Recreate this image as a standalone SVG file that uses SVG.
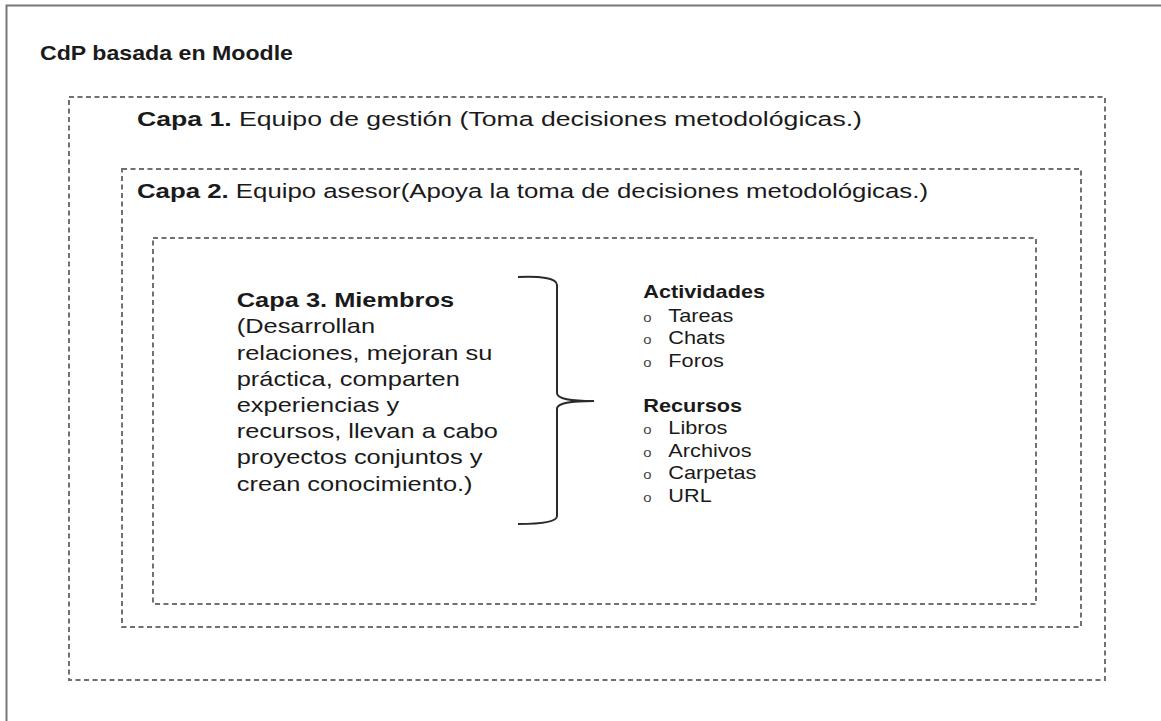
<svg xmlns="http://www.w3.org/2000/svg" width="1161" height="721" viewBox="0 0 1161 721">
<style>
.frame{fill:none;stroke:#777;stroke-width:2}
.layer{fill:none;stroke:#707070;stroke-width:2;stroke-dasharray:5 3.5}
.brace{fill:none;stroke:#2a2a2a;stroke-width:2}
text{font-family:"Liberation Sans",Arial,sans-serif;fill:#1a1a1a}
.t{font-size:20.5px}
.b{font-weight:bold}
.l{font-size:17.5px}
.bul{font-size:12px;fill:#444}
</style>
<rect width="1161" height="721" fill="#fff"/>
<path class="frame" d="M6.5,721 L6.5,5.5 L1161,5.5"/>
<g id="capa1">
<rect class="layer" x="69" y="97" width="1036" height="583"/>
</g>
<g id="capa2">
<rect class="layer" x="122" y="169" width="959" height="458"/>
</g>
<g id="capa3">
<rect class="layer" x="153" y="238" width="883" height="366"/>
</g>
<g id="connectors">
<path class="brace" d="M518,277 C540,276 557,278 557,285 L557,393 C557,399 570,401 594,401 C570,401 557,403 557,409 L557,516 C557,522 540,524 518,524"/>
</g>
<g id="titles">
<text class="t b" x="40" y="60" textLength="253" lengthAdjust="spacingAndGlyphs">CdP basada en Moodle</text>
<text class="t" x="137" y="126" textLength="725" lengthAdjust="spacingAndGlyphs"><tspan class="b">Capa 1.</tspan> Equipo de gestión (Toma decisiones metodológicas.)</text>
<text class="t" x="137" y="198" textLength="791" lengthAdjust="spacingAndGlyphs"><tspan class="b">Capa 2.</tspan> Equipo asesor(Apoya la toma de decisiones metodológicas.)</text>
</g>
<g id="labels" transform="scale(1.24,1)">
<g id="miembros">
<text class="t b" x="190.9" y="307.3">Capa 3. Miembros</text>
<text class="t" x="190.9" y="333.5">(Desarrollan</text>
<text class="t" x="190.9" y="359.7">relaciones, mejoran su</text>
<text class="t" x="190.9" y="385.9">práctica, comparten</text>
<text class="t" x="190.9" y="412.1">experiencias y</text>
<text class="t" x="190.9" y="438.3">recursos, llevan a cabo</text>
<text class="t" x="190.9" y="464.5">proyectos conjuntos y</text>
<text class="t" x="190.9" y="490.7">crean conocimiento.)</text>
</g>
<g id="actividades">
<text class="l b" x="518.8" y="298.3">Actividades</text>
<text class="bul" x="518.8" y="321.7">o</text><text class="l" x="539" y="321.7">Tareas</text>
<text class="bul" x="518.8" y="344.3">o</text><text class="l" x="539" y="344.3">Chats</text>
<text class="bul" x="518.8" y="366.9">o</text><text class="l" x="539" y="366.9">Foros</text>
</g>
<g id="recursos">
<text class="l b" x="518.8" y="411.7">Recursos</text>
<text class="bul" x="518.8" y="434.3">o</text><text class="l" x="539" y="434.3">Libros</text>
<text class="bul" x="518.8" y="456.9">o</text><text class="l" x="539" y="456.9">Archivos</text>
<text class="bul" x="518.8" y="479.5">o</text><text class="l" x="539" y="479.5">Carpetas</text>
<text class="bul" x="518.8" y="502.1">o</text><text class="l" x="539" y="502.1">URL</text>
</g>
</g>
</svg>
